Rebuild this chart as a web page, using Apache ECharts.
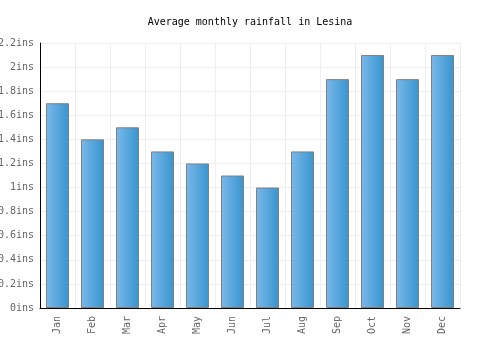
<!DOCTYPE html>
<html>
<head>
<meta charset="utf-8">
<script src="https://cdn.jsdelivr.net/npm/echarts@6/dist/echarts.min.js"></script>
<style>
html, body { margin: 0; padding: 0; background: #fff; }
#chart { width: 500px; height: 350px; }
</style>
</head>
<body>
<div id="chart"></div>
<script>
var months = ['Jan', 'Feb', 'Mar', 'Apr', 'May', 'Jun', 'Jul', 'Aug', 'Sep', 'Oct', 'Nov', 'Dec'];
var rainfall = [1.7, 1.4, 1.5, 1.3, 1.2, 1.1, 1.0, 1.3, 1.9, 2.1, 1.9, 2.1];
var titleText = 'Average monthly rainfall in Lesina';

var font = '"DejaVu Sans Mono", monospace';

var myChart = echarts.init(document.getElementById('chart'));
var option = {
    animation: false,
    title: {
        text: titleText,
        left: 'center',
        top: 12,
        textStyle: { fontFamily: font, fontSize: 10, fontWeight: 'normal', color: '#000' }
    },
    grid: { left: 40, right: 40, top: 43, bottom: 42, containLabel: false, outerBoundsMode: 'none' },
    xAxis: {
        type: 'category',
        data: months,
        axisLine: { lineStyle: { color: '#000' } },
        axisTick: { show: false },
        splitLine: { show: true, interval: 0, lineStyle: { color: '#eee' } },
        axisLabel: {
            rotate: 90,
            interval: 0,
            margin: 8,
            fontFamily: font,
            fontSize: 10,
            color: '#666'
        }
    },
    yAxis: {
        type: 'value',
        min: 0,
        max: 2.2,
        interval: 0.2,
        axisLine: { show: true, lineStyle: { color: '#000' } },
        axisTick: { show: false },
        splitLine: { lineStyle: { color: '#eee' } },
        axisLabel: {
            margin: 6,
            fontFamily: font,
            fontSize: 10,
            color: '#666',
            formatter: function (v) { return Math.round(v * 10) / 10 + 'ins'; }
        }
    },
    series: [{
        type: 'bar',
        data: rainfall,
        barWidth: 23,
        itemStyle: {
            borderColor: '#808080',
            borderWidth: 1,
            color: new echarts.graphic.LinearGradient(0, 0, 1, 0, [
                { offset: 0, color: '#7ab8ea' },
                { offset: 1, color: '#3795cf' }
            ])
        }
    }]
};
myChart.setOption(option);
</script>
</body>
</html>
